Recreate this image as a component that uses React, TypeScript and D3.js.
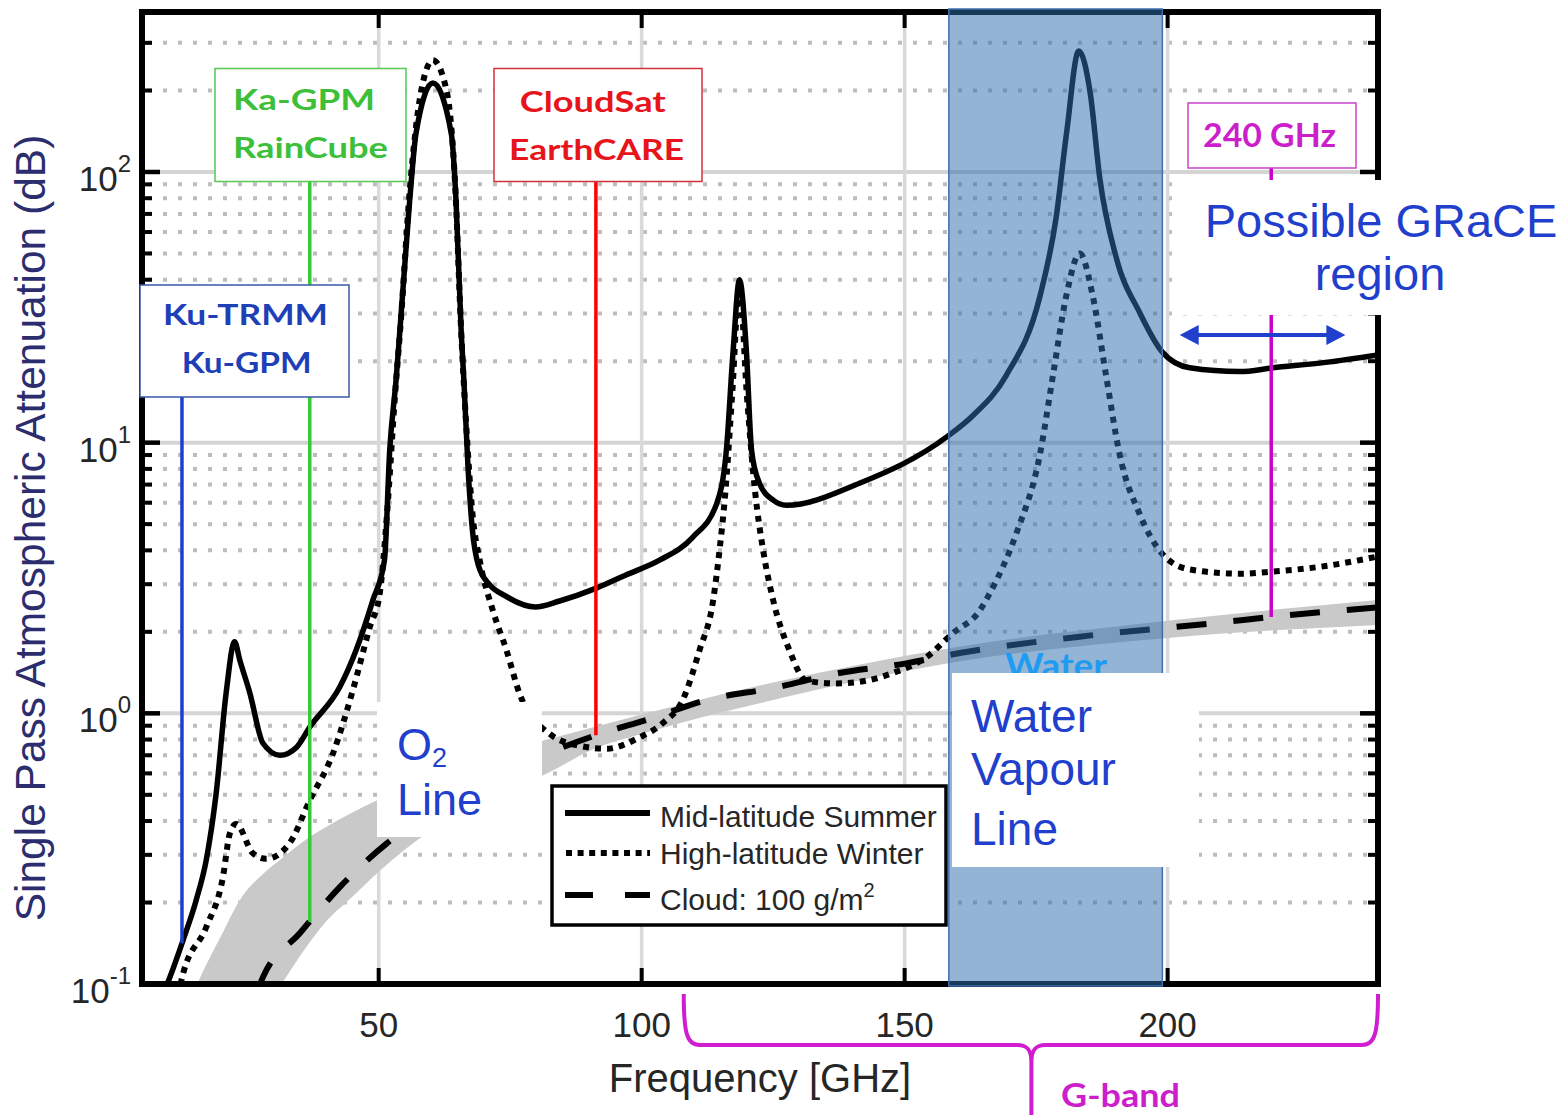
import React from "react";
import * as d3 from "d3";

// frequency in GHz, single pass attenuation in dB
const summerFreq = [8.8, 10.3, 12.8, 15.3, 17.2, 19.1, 21.0, 22.6, 23.6, 25.5, 28.0, 31.2, 34.4, 36.9, 42.6, 45.7, 48.9, 51.1, 52.1, 53.3, 54.0, 55.9, 57.1, 60.3, 63.8, 64.7, 65.7, 66.2, 67.0, 67.8, 69.0, 71.0, 74.0, 79.8, 84.4, 91.4, 97.1, 103.4, 109.7, 114.3, 116.1, 117.4, 118.6, 119.9, 120.9, 122.4, 125.0, 127.5, 141.4, 158.0, 163.0, 169.3, 175.7, 178.8, 180.8, 183.1, 185.3, 187.1, 190.2, 194.7, 199.0, 204.2, 213.7, 220.0, 230.0, 240.0];
const summerDb = [0.09, 0.106, 0.145, 0.204, 0.286, 0.506, 1.19, 1.84, 1.57, 1.19, 0.775, 0.7, 0.75, 0.89, 1.25, 1.71, 2.62, 3.68, 9.4, 17, 25.4, 78.7, 139, 213, 139, 78.7, 25.4, 17, 8.0, 4.8, 3.5, 3.0, 2.72, 2.47, 2.6, 2.9, 3.25, 3.68, 4.47, 5.98, 9.35, 22, 40, 22, 9.35, 7.08, 6.13, 5.87, 7.08, 10.5, 12.6, 17.7, 34.6, 67.8, 140, 280, 195, 95, 48.5, 30.2, 21.6, 18.9, 18.3, 18.9, 19.8, 21.1];

const winterFreq = [11.8, 12.8, 17.2, 20.4, 21.7, 22.9, 26.1, 28.6, 33.0, 36.9, 41.3, 45.1, 48.3, 50.2, 51.6, 53.0, 54.2, 55.9, 58.1, 60.3, 62.9, 64.6, 65.6, 66.6, 67.9, 69.2, 71.7, 74.3, 76.8, 82.5, 88.0, 93.3, 99.6, 104.0, 107.8, 111.0, 113.6, 114.8, 115.9, 117.2, 118.6, 120.0, 121.6, 123.1, 125.0, 128.1, 131.3, 137.0, 142.7, 147.8, 154.1, 159.2, 164.3, 166.2, 171.2, 175.7, 178.2, 180.7, 183.3, 185.8, 188.3, 190.9, 194.7, 199.0, 204.2, 213.7, 220.0, 230.0, 240.0];
const winterDb = [0.09, 0.109, 0.162, 0.249, 0.36, 0.39, 0.304, 0.29, 0.33, 0.477, 0.71, 1.22, 2.08, 2.77, 5.5, 14, 28, 85, 200, 259, 200, 85, 28, 12, 5.3, 3.68, 2.4, 1.71, 1.18, 0.84, 0.76, 0.74, 0.815, 0.92, 1.12, 1.71, 2.62, 4.0, 6.5, 15, 38, 15, 6.5, 4.0, 2.62, 1.71, 1.32, 1.29, 1.32, 1.41, 1.61, 1.98, 2.4, 2.78, 4.6, 9.0, 17.7, 34.6, 50, 34.6, 17.7, 9.0, 5.44, 3.88, 3.4, 3.28, 3.34, 3.5, 3.8];

const cloudFreq = [27.0, 28.0, 35.0, 42.6, 51.5, 60.0, 70.0, 81.9, 91.3, 102.0, 112.3, 125.0, 137.6, 150.3, 160.5, 183.3, 207.4, 226.4, 240.0];
const cloudDb = [0.095, 0.106, 0.154, 0.228, 0.33, 0.43, 0.56, 0.71, 0.83, 0.96, 1.12, 1.24, 1.41, 1.53, 1.67, 1.92, 2.14, 2.34, 2.46];

// grey spread around the cloud curve
const bandFreq = [14, 16, 20, 24, 28, 31.5, 36, 40, 45, 50, 60, 70, 82, 91, 100, 125, 160, 200, 240];
const bandLow = [0.03, 0.035, 0.045, 0.06, 0.08, 0.1, 0.135, 0.17, 0.21, 0.26, 0.37, 0.48, 0.6, 0.74, 0.84, 1.12, 1.55, 1.9, 2.12];
const bandHigh = [0.085, 0.105, 0.15, 0.21, 0.255, 0.29, 0.34, 0.38, 0.43, 0.48, 0.58, 0.68, 0.8, 0.89, 0.99, 1.3, 1.76, 2.2, 2.62];

const xTicks = [50, 100, 150, 200];
const yDecades = [-1, 0, 1, 2];

// radar frequencies marked by vertical lines
const kuFreq = 12.6;
const kaFreq = 36.9;
const cloudSatFreq = 91.3;
const ghz240Freq = 219.7;

const waterBand = [158.4, 199];
const graceRange = [202.3, 233.8];
const gBandRange = [108, 240, 174.1];

const FONT = "'Liberation Sans', Arial, Helvetica, sans-serif";
const BOLD = "Lato, 'Open Sans', sans-serif";
const BLUE = "#1f3fcc";
const MAGENTA = "#cf1dcf";

const P = { left: 142, right: 1378, top: 12, bottom: 984 };

const pairs = (fs, vs) => fs.map((f, i) => [f, vs[i]]);

function logInterp(fs, vs, f) {
  let i = d3.bisectLeft(fs, f);
  i = Math.max(1, Math.min(fs.length - 1, i));
  const t = (f - fs[i - 1]) / (fs[i] - fs[i - 1]);
  return Math.exp(Math.log(vs[i - 1]) * (1 - t) + Math.log(vs[i]) * t);
}

function BoldLabel({ cx, y, len, size = 29, color, children }) {
  return (
    <text x={cx} y={y} textAnchor="middle" fontFamily={BOLD} fontWeight={700}
      fontSize={size} fill={color} textLength={len} lengthAdjust="spacingAndGlyphs">
      {children}
    </text>
  );
}

export default function App() {
  const x = d3.scaleLinear().domain([5, 240]).range([P.left, P.right]);
  const y = d3.scaleLog().domain([0.1, 390]).range([P.bottom, P.top]);

  const line = d3.line().x(d => x(d[0])).y(d => y(d[1])).curve(d3.curveMonotoneX);
  const area = d3.area().x(d => x(d[0])).y0(d => y(d[1])).y1(d => y(d[2])).curve(d3.curveMonotoneX);

  const bandPts = bandFreq.map((f, i) => [f, bandLow[i], bandHigh[i]]);

  const minor = [];
  for (let e = -1; e <= 2; e++) {
    for (let m = 2; m <= 9; m++) {
      const v = m * Math.pow(10, e);
      if (v < 390) minor.push(v);
    }
  }

  const vLines = [
    { f: kuFreq, top: 397, bottom: y(logInterp(summerFreq, summerDb, kuFreq)), color: "#1a3fcf" },
    { f: kaFreq, top: 182, bottom: y(logInterp(cloudFreq, cloudDb, kaFreq)), color: "#33cc33" },
    { f: cloudSatFreq, top: 182, bottom: y(logInterp(cloudFreq, cloudDb, cloudSatFreq)), color: "#ff0000" },
    { f: ghz240Freq, top: 168, bottom: y(logInterp(cloudFreq, cloudDb, ghz240Freq)), color: "#cc00cc" }
  ];

  const bl = x(gBandRange[0]), br = x(gBandRange[1]), bc = x(gBandRange[2]);
  const brace =
    `M${bl},994 C${bl},1033 ${bl + 3},1045 ${bl + 16},1045 L${bc - 14},1045 ` +
    `C${bc - 4},1045 ${bc},1050 ${bc},1062 L${bc},1115 ` +
    `M${bc},1062 C${bc},1050 ${bc + 4},1045 ${bc + 14},1045 L${br - 16},1045 ` +
    `C${br - 3},1045 ${br},1033 ${br},994`;

  const ax0 = x(graceRange[0]), ax1 = x(graceRange[1]), ay = 335;

  return (
    <svg width={1567} height={1115} style={{ position: "absolute", left: 0, top: 0, background: "#fff" }}
      fontFamily={FONT}>
      <defs>
        <clipPath id="plotClip">
          <rect x={P.left} y={P.top} width={P.right - P.left} height={P.bottom - P.top} />
        </clipPath>
      </defs>
      <rect x={0} y={0} width={1567} height={1115} fill="#fff" />

      {/* grid */}
      <g>
        {minor.map(v => (
          <line key={"mg" + v} x1={P.left + 6} x2={P.right - 6} y1={y(v)} y2={y(v)}
            stroke="#bdbdbd" strokeWidth={4} strokeDasharray="4 11" />
        ))}
        {yDecades.slice(1).map(e => (
          <line key={"gy" + e} x1={P.left} x2={P.right} y1={y(Math.pow(10, e))} y2={y(Math.pow(10, e))}
            stroke="#d4d4d4" strokeWidth={4} />
        ))}
        {xTicks.map(t => (
          <line key={"gx" + t} x1={x(t)} x2={x(t)} y1={P.top} y2={P.bottom} stroke="#d9d9d9" strokeWidth={3.5} />
        ))}
      </g>

      {/* curves */}
      <g clipPath="url(#plotClip)">
        <path d={area(bandPts)} fill="#c9c9c9" />
        <path d={line(pairs(cloudFreq, cloudDb))} fill="none" stroke="#000" strokeWidth={6} strokeDasharray="30 27" />
        <path d={line(pairs(winterFreq, winterDb))} fill="none" stroke="#000" strokeWidth={6} strokeDasharray="6 6" />
        <path d={line(pairs(summerFreq, summerDb))} fill="none" stroke="#000" strokeWidth={5.5} />
      </g>

      {/* instrument lines */}
      {vLines.map(l => (
        <line key={"vl" + l.f} x1={x(l.f)} x2={x(l.f)} y1={l.top} y2={l.bottom} stroke={l.color} strokeWidth={3.5} />
      ))}

      {/* frame and ticks */}
      <g stroke="#000">
        <rect x={P.left} y={P.top} width={P.right - P.left} height={P.bottom - P.top} fill="none" strokeWidth={6} />
        {xTicks.map(t => (
          <g key={"xt" + t}>
            <line x1={x(t)} x2={x(t)} y1={P.bottom} y2={P.bottom - 16} strokeWidth={4} />
            <line x1={x(t)} x2={x(t)} y1={P.top} y2={P.top + 16} strokeWidth={4} />
          </g>
        ))}
        {yDecades.map(e => (
          <g key={"yt" + e}>
            <line x1={P.left} x2={P.left + 18} y1={y(Math.pow(10, e))} y2={y(Math.pow(10, e))} strokeWidth={4.5} />
            <line x1={P.right} x2={P.right - 18} y1={y(Math.pow(10, e))} y2={y(Math.pow(10, e))} strokeWidth={4.5} />
          </g>
        ))}
        {minor.map(v => (
          <g key={"ym" + v}>
            <line x1={P.left} x2={P.left + 10} y1={y(v)} y2={y(v)} strokeWidth={4} />
            <line x1={P.right} x2={P.right - 10} y1={y(v)} y2={y(v)} strokeWidth={4} />
          </g>
        ))}
      </g>

      {/* water vapour shading */}
      <rect x={x(waterBand[0])} y={P.top - 3} width={x(waterBand[1]) - x(waterBand[0])} height={P.bottom - P.top + 5}
        fill="#3270b1" fillOpacity={0.52} stroke="#3f6fae" strokeWidth={1.5} />
      <text x={1005} y={678} fontFamily={BOLD} fontWeight={700} fontSize={34} fill="#1f9cf2"
        textLength={102} lengthAdjust="spacingAndGlyphs">Water</text>

      {/* tick labels */}
      {xTicks.map(t => (
        <text key={"xl" + t} x={x(t)} y={1037} textAnchor="middle" fontSize={35} fill="#262626">{t}</text>
      ))}
      {yDecades.map(e => (
        <text key={"yl" + e} x={131} y={y(Math.pow(10, e)) + 19} textAnchor="end" fontSize={35} fill="#262626">
          10<tspan dy={-19} fontSize={24}>{e}</tspan>
        </text>
      ))}
      <text x={760} y={1092} textAnchor="middle" fontSize={40} fill="#262626">Frequency [GHz]</text>
      <text transform="translate(45,528) rotate(-90)" textAnchor="middle" fontSize={42.5} fill="#2c2d6e">
        Single Pass Atmospheric Attenuation (dB)
      </text>

      {/* instrument boxes */}
      <rect x={140} y={285} width={209} height={112} fill="#fff" stroke="#3b58a8" strokeWidth={1.5} />
      <BoldLabel cx={245.5} y={325} len={165} color="#1d3fb8">Ku-TRMM</BoldLabel>
      <BoldLabel cx={246.7} y={373} len={130} color="#1d3fb8">Ku-GPM</BoldLabel>

      <rect x={215} y={68.5} width={191} height={113} fill="#fff" stroke="#55c855" strokeWidth={1.5} />
      <BoldLabel cx={304} y={110} len={142} color="#3dbf3a">Ka-GPM</BoldLabel>
      <BoldLabel cx={310.5} y={158} len={155} color="#3dbf3a">RainCube</BoldLabel>

      <rect x={494} y={68.5} width={208} height={113} fill="#fff" stroke="#d4303a" strokeWidth={1.5} />
      <BoldLabel cx={592.8} y={111.5} len={146} color="#e8141c">CloudSat</BoldLabel>
      <BoldLabel cx={596.5} y={160} len={175} color="#e8141c">EarthCARE</BoldLabel>

      <rect x={1188} y={103} width={168} height={65} fill="#fff" stroke="#cc44cc" strokeWidth={1.5} />
      <BoldLabel cx={1269.5} y={146.5} len={133} size={32} color="#cc1fcc">240 GHz</BoldLabel>

      {/* GRaCE region */}
      <rect x={1180} y={180} width={390} height={135} fill="#fff" />
      <text x={1381} y={237} textAnchor="middle" fontSize={47} fill={BLUE}>Possible GRaCE</text>
      <text x={1380} y={290} textAnchor="middle" fontSize={47} fill={BLUE}>region</text>
      <line x1={ax0 + 16} x2={ax1 - 16} y1={ay} y2={ay} stroke={BLUE} strokeWidth={4} />
      <path d={`M${ax0},${ay} L${ax0 + 19},${ay - 10} L${ax0 + 19},${ay + 10} Z`} fill={BLUE} />
      <path d={`M${ax1},${ay} L${ax1 - 19},${ay - 10} L${ax1 - 19},${ay + 10} Z`} fill={BLUE} />

      {/* O2 line */}
      <rect x={377} y={702} width={165} height={135} fill="#fff" />
      <text x={397} y={760} fontSize={45} fill={BLUE}>O<tspan dy={7} fontSize={27}>2</tspan></text>
      <text x={397} y={815} fontSize={45} fill={BLUE}>Line</text>

      {/* water vapour line */}
      <rect x={952} y={673} width={247} height={194} fill="#fff" />
      <text x={971} y={732} fontSize={46} fill={BLUE}>Water</text>
      <text x={971} y={785} fontSize={46} fill={BLUE}>Vapour</text>
      <text x={971} y={845} fontSize={46} fill={BLUE}>Line</text>

      {/* legend */}
      <rect x={552} y={786} width={394} height={139} fill="#fff" stroke="#000" strokeWidth={3.5} />
      <line x1={565} x2={650} y1={813} y2={813} stroke="#000" strokeWidth={6} />
      <line x1={566} x2={650} y1={853} y2={853} stroke="#000" strokeWidth={6} strokeDasharray="6 5.6" />
      <line x1={565} x2={650} y1={895} y2={895} stroke="#000" strokeWidth={6} strokeDasharray="28 32" />
      <text x={660} y={827} fontSize={30} fill="#262626">Mid-latitude Summer</text>
      <text x={660} y={864} fontSize={30} fill="#262626">High-latitude Winter</text>
      <text x={660} y={910} fontSize={30} fill="#262626">
        Cloud: 100 g/m<tspan dy={-13} fontSize={20}>2</tspan>
      </text>

      {/* G-band brace */}
      <path d={brace} fill="none" stroke={MAGENTA} strokeWidth={4} />
      <BoldLabel cx={1120.5} y={1107} len={119} size={33} color="#cc1fcc">G-band</BoldLabel>
    </svg>
  );
}
